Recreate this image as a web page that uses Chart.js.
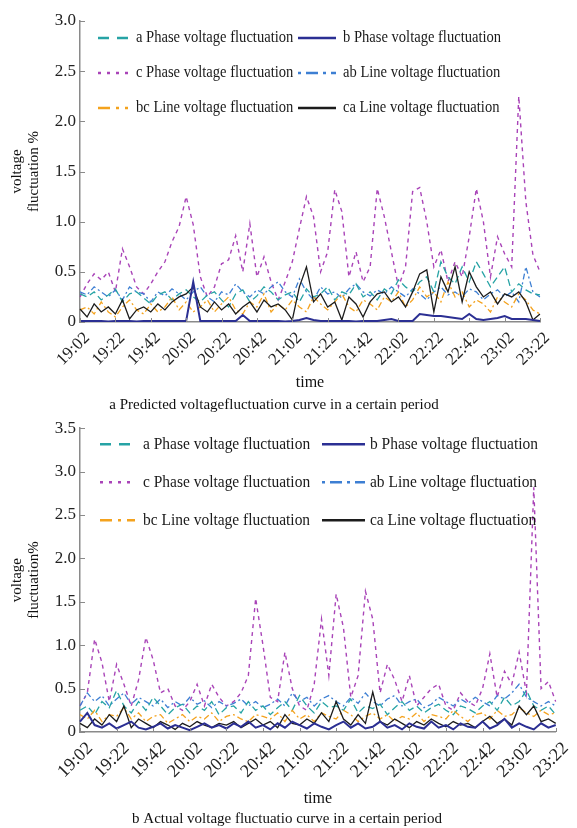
<!DOCTYPE html>
<html>
<head>
<meta charset="utf-8">
<script src="https://cdn.jsdelivr.net/npm/chart.js@4.4.0/dist/chart.umd.min.js"></script>
<style>
  body { margin: 0; background: #fff; }
  .box { position: absolute; left: 0; width: 577px; height: 414px; }
  #boxTop { top: 0; }
  #boxBottom { top: 414px; }
</style>
</head>
<body>
<div class="box" id="boxTop"><canvas id="chartTop" width="577" height="414"></canvas></div>
<div class="box" id="boxBottom"><canvas id="chartBottom" width="577" height="414"></canvas></div>
<script>
var times = [
  "19:02","19:06","19:10","19:14","19:18","19:22","19:26","19:30","19:34","19:38","19:42","19:46","19:50","19:54","19:58",
  "20:02","20:06","20:10","20:14","20:18","20:22","20:26","20:30","20:34","20:38","20:42","20:46","20:50","20:54","20:58",
  "21:02","21:06","21:10","21:14","21:18","21:22","21:26","21:30","21:34","21:38","21:42","21:46","21:50","21:54","21:58",
  "22:02","22:06","22:10","22:14","22:18","22:22","22:26","22:30","22:34","22:38","22:42","22:46","22:50","22:54","22:58",
  "23:02","23:06","23:10","23:14","23:18","23:22"
];

var seriesNames = [
  "a Phase voltage fluctuation", "b Phase voltage fluctuation",
  "c Phase voltage fluctuation", "ab Line voltage fluctuation",
  "bc Line voltage fluctuation", "ca Line voltage fluctuation"
];

// predicted (top chart)
var topA = [0.28,0.25,0.30,0.22,0.27,0.33,0.20,0.28,0.30,0.24,0.18,
  0.27,0.30,0.22,0.28,0.32,0.25,0.20,0.27,0.30,0.22,0.15,
  0.28,0.32,0.20,0.26,0.35,0.30,0.22,0.27,0.30,0.20,0.33,
  0.25,0.28,0.35,0.22,0.30,0.27,0.38,0.25,0.30,0.22,0.33,
  0.28,0.42,0.35,0.30,0.40,0.45,0.30,0.60,0.45,0.38,0.55,
  0.40,0.60,0.48,0.35,0.45,0.55,0.30,0.38,0.32,0.28,0.27];
var topB = [0.01,0.01,0.01,0.01,0.005,0.01,0.01,0.01,0.005,0.01,0.01,
  0.01,0.01,0.01,0.01,0.01,0.40,0.01,0.01,0.01,0.01,0.01,
  0.01,0.07,0.01,0.01,0.01,0.01,0.01,0.005,0.01,0.02,0.04,
  0.02,0.01,0.01,0.01,0.01,0.01,0.005,0.01,0.01,0.01,0.02,
  0.03,0.01,0.01,0.01,0.08,0.07,0.06,0.06,0.05,0.04,0.03,
  0.08,0.03,0.02,0.03,0.04,0.06,0.03,0.03,0.03,0.02,0.01];
var topC = [0.25,0.38,0.48,0.42,0.50,0.30,0.73,0.55,0.35,0.28,0.38,
  0.50,0.60,0.80,0.95,1.25,0.97,0.45,0.25,0.35,0.58,0.62,
  0.86,0.50,0.98,0.45,0.65,0.40,0.22,0.40,0.60,0.93,1.25,
  1.05,0.50,0.70,1.32,1.10,0.45,0.70,0.40,0.55,1.33,1.05,
  0.70,0.35,0.55,1.30,1.34,1.00,0.55,0.72,0.40,0.60,0.45,
  0.85,1.33,1.00,0.45,0.85,0.68,0.55,2.25,1.20,0.67,0.50];
var topAB = [0.30,0.27,0.35,0.30,0.25,0.32,0.22,0.35,0.30,0.28,0.20,
  0.30,0.26,0.33,0.28,0.22,0.30,0.35,0.25,0.20,0.30,0.27,
  0.38,0.30,0.25,0.32,0.28,0.35,0.40,0.30,0.25,0.43,0.30,
  0.22,0.35,0.28,0.30,0.24,0.33,0.38,0.30,0.26,0.32,0.28,
  0.35,0.30,0.25,0.33,0.28,0.22,0.30,0.35,0.27,0.30,0.25,
  0.33,0.30,0.22,0.28,0.32,0.25,0.30,0.20,0.55,0.30,0.25];
var topBC = [0.12,0.15,0.08,0.20,0.10,0.05,0.15,0.22,0.12,0.08,0.18,
  0.10,0.15,0.25,0.12,0.20,0.10,0.15,0.22,0.10,0.18,0.25,
  0.12,0.08,0.20,0.15,0.28,0.10,0.18,0.12,0.22,0.15,0.10,
  0.25,0.18,0.12,0.20,0.28,0.15,0.10,0.22,0.18,0.12,0.25,
  0.20,0.30,0.15,0.22,0.35,0.25,0.30,0.20,0.40,0.25,0.30,
  0.15,0.22,0.18,0.10,0.25,0.20,0.15,0.28,0.22,0.12,0.08];
var topCA = [0.13,0.05,0.18,0.10,0.15,0.08,0.22,0.03,0.12,0.15,0.10,
  0.18,0.12,0.20,0.25,0.28,0.35,0.15,0.10,0.20,0.12,0.18,
  0.08,0.15,0.20,0.10,0.22,0.15,0.18,0.12,0.02,0.35,0.55,
  0.20,0.28,0.15,0.20,0.02,0.25,0.18,0.05,0.20,0.28,0.30,
  0.20,0.25,0.15,0.30,0.48,0.52,0.10,0.45,0.30,0.55,0.20,
  0.50,0.35,0.25,0.30,0.18,0.28,0.25,0.30,0.20,0.02,0.08];

// actual (bottom chart)
var botA = [0.25,0.30,0.20,0.35,0.28,0.48,0.30,0.22,0.35,0.25,0.40,
  0.30,0.20,0.28,0.32,0.22,0.30,0.25,0.35,0.20,0.28,0.30,
  0.22,0.35,0.25,0.30,0.20,0.28,0.35,0.25,0.42,0.30,0.22,
  0.35,0.28,0.30,0.25,0.38,0.22,0.30,0.27,0.32,0.20,0.28,
  0.35,0.25,0.30,0.22,0.28,0.32,0.25,0.20,0.30,0.27,0.22,
  0.30,0.35,0.25,0.40,0.30,0.35,0.48,0.30,0.25,0.30,0.20];
var botB = [0.12,0.22,0.08,0.05,0.10,0.04,0.08,0.12,0.05,0.03,0.06,
  0.10,0.04,0.08,0.05,0.02,0.06,0.10,0.05,0.08,0.04,0.10,
  0.06,0.12,0.05,0.08,0.03,0.10,0.05,0.12,0.08,0.04,0.10,
  0.06,0.03,0.08,0.12,0.05,0.10,0.04,0.06,0.12,0.05,0.08,
  0.03,0.10,0.06,0.04,0.12,0.05,0.08,0.03,0.10,0.06,0.05,
  0.12,0.04,0.08,0.15,0.05,0.10,0.06,0.03,0.10,0.05,0.08];
var botC = [0.30,0.45,1.07,0.80,0.35,0.78,0.55,0.30,0.60,1.09,0.83,
  0.45,0.50,0.30,0.25,0.35,0.55,0.30,0.55,0.40,0.30,0.35,
  0.45,0.65,1.54,1.00,0.40,0.35,0.92,0.50,0.30,0.25,0.55,
  1.30,0.65,1.59,1.20,0.40,0.65,1.62,1.30,0.45,0.78,0.60,
  0.35,0.65,0.30,0.40,0.50,0.55,0.30,0.25,0.45,0.35,0.30,
  0.50,0.90,0.40,0.70,0.55,0.92,0.45,2.82,0.50,0.58,0.35];
var botAB = [0.30,0.45,0.35,0.42,0.30,0.38,0.45,0.32,0.40,0.35,0.30,
  0.38,0.28,0.35,0.30,0.40,0.32,0.36,0.28,0.35,0.30,0.33,
  0.38,0.30,0.35,0.28,0.32,0.38,0.30,0.45,0.35,0.40,0.30,
  0.38,0.42,0.35,0.30,0.40,0.33,0.45,0.35,0.30,0.38,0.42,
  0.30,0.35,0.38,0.28,0.32,0.40,0.35,0.30,0.38,0.33,0.40,
  0.35,0.30,0.42,0.38,0.45,0.55,0.40,0.35,0.30,0.35,0.30];
var botBC = [0.20,0.15,0.25,0.12,0.20,0.18,0.28,0.15,0.22,0.12,0.18,
  0.20,0.10,0.15,0.20,0.12,0.18,0.15,0.22,0.12,0.18,0.20,
  0.15,0.12,0.20,0.18,0.15,0.22,0.12,0.25,0.15,0.20,0.12,
  0.22,0.18,0.15,0.25,0.20,0.12,0.18,0.22,0.15,0.20,0.12,
  0.18,0.15,0.22,0.12,0.20,0.18,0.15,0.25,0.18,0.12,0.20,
  0.22,0.15,0.25,0.18,0.20,0.28,0.22,0.18,0.25,0.20,0.22];
var botCA = [0.10,0.05,0.15,0.08,0.20,0.12,0.30,0.05,0.15,0.10,0.05,
  0.12,0.08,0.03,0.10,0.06,0.12,0.08,0.05,0.10,0.08,0.12,
  0.05,0.10,0.15,0.08,0.12,0.05,0.20,0.10,0.08,0.15,0.10,
  0.22,0.12,0.35,0.15,0.08,0.20,0.10,0.46,0.12,0.08,0.15,
  0.10,0.05,0.12,0.08,0.15,0.10,0.06,0.12,0.08,0.10,0.05,
  0.12,0.18,0.10,0.15,0.08,0.30,0.20,0.30,0.12,0.15,0.10];

var serif = '"Liberation Serif", "Times New Roman", serif';

// line look per series: colour, dash in plot, dash in legend, width, draw order
var styles = [
  { color: "#26a3a5", dash: [7, 4], legendDash: [11, 8], width: 1.3, order: 3 },
  { color: "#2b2f93", dash: [], legendDash: [], width: 2, order: 0 },
  { color: "#a944b8", dash: [4, 4], legendDash: [3, 6], width: 1.4, order: 5 },
  { color: "#3d7fd3", dash: [6, 3, 2, 3], legendDash: [3, 5, 12, 5], width: 1.3, order: 4 },
  { color: "#f4a21d", dash: [6, 3, 2, 3], legendDash: [12, 6, 3, 6], width: 1.3, order: 2 },
  { color: "#1c1c1c", dash: [], legendDash: [], width: 1.3, order: 1 }
];

// legend drawn inside the plot, 3 rows x 2 columns
var phaseLegend = {
  id: "phaseLegend",
  afterDraw: function (chart, args, opts) {
    var ctx = chart.ctx, area = chart.chartArea;
    ctx.save();
    ctx.font = opts.fontSize + "px " + serif;
    ctx.textBaseline = "middle";
    ctx.fillStyle = "#1a1a1a";
    for (var i = 0; i < seriesNames.length; i++) {
      var col = i % 2, row = Math.floor(i / 2);
      var y = area.top + opts.rows[row];
      var sx = area.left + opts.sampleX[col];
      var st = styles[i];
      ctx.save();
      ctx.strokeStyle = st.color;
      ctx.lineWidth = (st.legendDash.length ? 2.6 : 2.4);
      ctx.setLineDash(st.legendDash);
      ctx.beginPath();
      ctx.moveTo(sx, y);
      ctx.lineTo(sx + opts.sampleW[col], y);
      ctx.stroke();
      ctx.restore();
      ctx.save();
      ctx.translate(area.left + opts.textX[col], y);
      ctx.scale(0.91, 1);
      ctx.fillText(seriesNames[i], 0, 0);
      ctx.restore();
    }
    ctx.restore();
  }
};

// short tick marks pointing into the plot
var innerTicks = {
  id: "innerTicks",
  afterDraw: function (chart) {
    var ctx = chart.ctx, area = chart.chartArea;
    var ys = chart.scales.y, xs = chart.scales.x;
    ctx.save();
    ctx.strokeStyle = "#8a8a8a";
    ctx.lineWidth = 1;
    ys.ticks.forEach(function (t) {
      var py = Math.round(ys.getPixelForValue(t.value)) + 0.5;
      ctx.beginPath();
      ctx.moveTo(area.left, py);
      ctx.lineTo(area.left + 5, py);
      ctx.stroke();
    });
    for (var i = 0; i < times.length; i += 5) {
      var px = Math.round(xs.getPixelForValue(i)) + 0.5;
      ctx.beginPath();
      ctx.moveTo(px, area.bottom);
      ctx.lineTo(px, area.bottom - 4);
      ctx.stroke();
    }
    ctx.restore();
  }
};

function buildChart(canvasId, values, cfg) {
  var datasets = values.map(function (v, i) {
    return {
      label: seriesNames[i],
      data: v,
      borderColor: styles[i].color,
      backgroundColor: styles[i].color,
      borderWidth: styles[i].width,
      borderDash: styles[i].dash,
      pointRadius: 0,
      tension: 0,
      fill: false,
      order: styles[i].order
    };
  });

  return new Chart(document.getElementById(canvasId).getContext("2d"), {
    type: "line",
    data: { labels: times, datasets: datasets },
    options: {
      responsive: false,
      animation: false,
      layout: { padding: cfg.padding },
      plugins: {
        legend: { display: false },
        tooltip: { enabled: false },
        title: {
          display: true,
          position: "bottom",
          text: cfg.caption,
          color: "#111",
          font: { family: serif, size: 15, weight: "normal" },
          padding: { top: cfg.captionTop, bottom: 0 }
        },
        phaseLegend: cfg.legend
      },
      scales: {
        x: {
          grid: { display: false, drawTicks: false },
          border: { color: "#8a8a8a", width: 1.5 },
          afterFit: function (s) { s.height = cfg.xHeight; },
          ticks: {
            autoSkip: false,
            maxRotation: 45,
            minRotation: 45,
            padding: 6,
            labelOffset: cfg.labelShift,
            color: "#222",
            font: { family: serif, size: cfg.xTickSize },
            callback: function (v, i) { return i % 5 === 0 ? times[i] : ""; }
          },
          title: {
            display: true,
            text: "time",
            color: "#111",
            font: { family: serif, size: 16 },
            padding: { top: 0, bottom: 2 }
          }
        },
        y: {
          min: 0,
          max: cfg.yMax,
          grid: { display: false, drawTicks: false },
          border: { color: "#8a8a8a", width: 1.5 },
          afterFit: function (s) { s.width = cfg.yWidth; },
          ticks: {
            stepSize: 0.5,
            padding: 4,
            color: "#222",
            font: { family: serif, size: cfg.tickSize },
            callback: function (v) { return v === 0 ? "0" : v.toFixed(1); }
          },
          title: {
            display: true,
            text: cfg.yTitle,
            color: "#111",
            font: { family: serif, size: 15, lineHeight: 1.15 },
            padding: 0
          }
        }
      }
    },
    plugins: [phaseLegend, innerTicks]
  });
}

buildChart("chartTop", [topA, topB, topC, topAB, topBC, topCA], {
  caption: "a Predicted voltagefluctuation curve in a certain period",
  yMax: 3,
  yTitle: ["voltage", "fluctuation %"],
  tickSize: 17,
  xTickSize: 17,
  labelShift: 7,
  padding: { left: 8, right: 37, top: 21, bottom: 0 },
  yWidth: 72,
  xHeight: 72,
  captionTop: 2,
  legend: { fontSize: 16, rows: [17, 52, 87], sampleX: [18, 218], sampleW: [30, 38], textX: [56, 263] }
});

buildChart("chartBottom", [botA, botB, botC, botAB, botBC, botCA], {
  caption: "b Actual voltage fluctuatio curve in a certain period",
  yMax: 3.5,
  yTitle: ["voltage", "fluctuation%"],
  tickSize: 17,
  xTickSize: 18,
  labelShift: 10,
  padding: { left: 8, right: 11, top: 13, bottom: 0 },
  yWidth: 72,
  xHeight: 78,
  captionTop: 0,
  legend: { fontSize: 17, rows: [16, 54, 92], sampleX: [20, 242], sampleW: [35, 43], textX: [63, 290] }
});
</script>
</body>
</html>
